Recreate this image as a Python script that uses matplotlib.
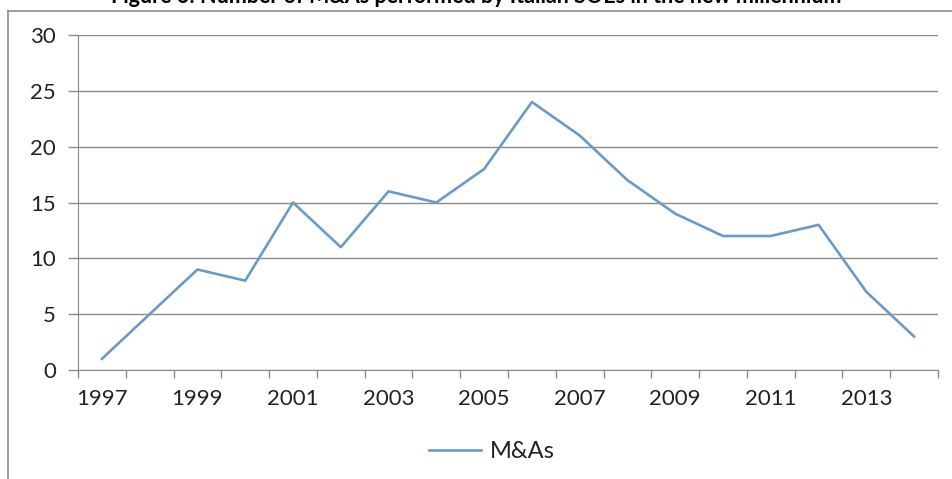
import numpy as np
import matplotlib
matplotlib.use('Agg')
import matplotlib.pyplot as plt
from matplotlib.lines import Line2D

# data
years = [1997, 1998, 1999, 2000, 2001, 2002, 2003, 2004, 2005,
         2006, 2007, 2008, 2009, 2010, 2011, 2012, 2013, 2014]
mas = [1, 5, 9, 8, 15, 11, 16, 15, 18, 24, 21, 17, 14, 12, 12, 13, 7, 3]
y_ticks = [0, 5, 10, 15, 20, 25, 30]
title = 'Figure 6: Number of M&As performed by Italian SOEs in the new millennium'

plt.rcParams['font.family'] = ['Lato', 'DejaVu Sans']

W, H = 952, 479
fig = plt.figure(figsize=(W / 100, H / 100), dpi=100)
ax = fig.add_axes([78 / W, 1 - 370 / H, (938 - 78) / W, (370 - 35) / H])

x = np.arange(len(years))
ax.plot(x, mas, color='#6a9bc8', linewidth=1.9, label='M&As')

grid_col = '#8a8a8a'
ax.set_ylim(0, 30)
ax.set_xlim(-0.5, len(years) - 0.5)
ax.set_yticks(y_ticks)
ax.yaxis.grid(True, color=grid_col, linewidth=1.0)
ax.set_axisbelow(True)

# ticks on category boundaries, labels every second year
ax.set_xticks(np.arange(len(years) + 1) - 0.5)
ax.set_xticklabels([])
ax.set_xticks(x[::2], minor=True)
ax.set_xticklabels([str(y) for y in years[::2]], minor=True)
ax.tick_params(axis='x', which='major', direction='out', length=6, color=grid_col, width=1)
ax.tick_params(axis='x', which='minor', length=0, pad=14, labelsize=16, labelcolor='#222222')
ax.tick_params(axis='y', direction='out', length=7, color=grid_col, width=1,
               labelsize=16, labelcolor='#222222', pad=9)

for side in ['top', 'right']:
    ax.spines[side].set_visible(False)
ax.spines['left'].set_color(grid_col)
ax.spines['bottom'].set_color(grid_col)

leg = ax.legend(loc='center', bbox_to_anchor=(492 / W, 1 - 452 / H),
                bbox_transform=fig.transFigure, frameon=False, fontsize=17,
                handlelength=2.2, handletextpad=0.35)
for t in leg.get_texts():
    t.set_color('#222222')

# outer chart frame (partly cut off in the reference)
fig.add_artist(Line2D([8 / W, 1], [1 - 11 / H, 1 - 11 / H], color='#8c8c8c', linewidth=1.2))
fig.add_artist(Line2D([8 / W, 8 / W], [0, 1 - 11 / H], color='#8c8c8c', linewidth=1.2))

# title, mostly above the visible area as in the reference
fig.text(0.5, 1 - 3 / H, title, ha='center', va='baseline', fontsize=15.5,
         fontweight='bold', color='black')

fig.savefig('out.png', dpi=100)
